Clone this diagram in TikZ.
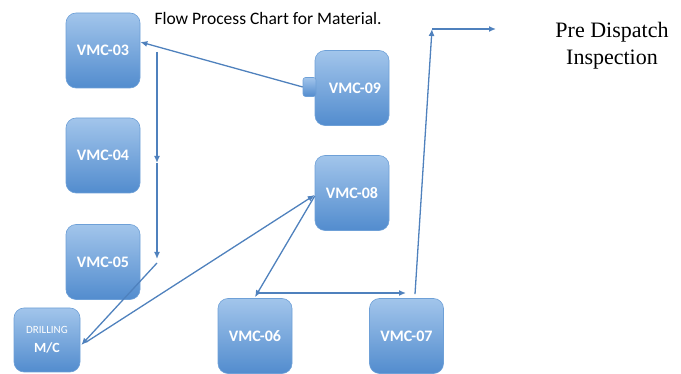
\documentclass[tikz,border=0pt]{standalone}
\usepackage{fontspec}
\setmainfont{Liberation Serif}
\newfontfamily\calfont{Carlito}
\usetikzlibrary{arrows.meta}
\definecolor{boxtop}{RGB}{162,197,235}
\definecolor{boxbot}{RGB}{82,140,206}
\definecolor{boxedge}{RGB}{110,160,215}
\definecolor{arrowc}{RGB}{79,129,189}
\tikzset{
  mbox/.style={rounded corners=10pt, minimum width=74pt, minimum height=75pt,
    top color=boxtop, bottom color=boxbot, draw=boxedge, line width=0.6pt,
    text=white, font=\calfont\bfseries\fontsize{16}{18}\selectfont, inner sep=0pt},
  conn/.style={draw=arrowc, line width=1.3pt, -{Latex[length=7pt,width=6pt]}},
}
\begin{document}
\begin{tikzpicture}[x=1pt,y=-1pt]
\useasboundingbox (0,0) rectangle (681,374);
\node[mbox] (v03) at (103,50.5) {VMC-03};
\node[mbox] (v04) at (103,155.5) {VMC-04};
\node[mbox] (v05) at (103,262) {VMC-05};
\node[mbox, minimum width=66pt, minimum height=64pt, align=center] (drill) at (47,340)
  {\mdseries\fontsize{11}{11}\selectfont DRILLING\\[1pt]\bfseries\fontsize{14}{14}\selectfont M/C};
\node[mbox] (v09) at (352,88) {\hspace*{6pt}VMC-09};
\node[mbox, minimum width=13pt, minimum height=19pt, rounded corners=2.5pt] (tab) at (309.5,87) {};
\node[mbox] (v08) at (352,193) {VMC-08};
\node[mbox] (v06) at (255,336) {VMC-06};
\node[mbox] (v07) at (406.5,336) {VMC-07};
\node[font=\calfont\fontsize{17.5}{20}\selectfont, anchor=west] (title) at (151,18) {Flow Process Chart for Material.};
\node[font=\fontsize{22}{27}\selectfont, align=center] (pdi) at (612,46) {Pre Dispatch\\Inspection};
% connectors
\draw[conn] (tab.west) -- ([yshift=8.5pt]v03.east);
\coordinate (a1) at (157,52);
\coordinate (am) at (157,163);
\coordinate (a2) at (157,259);
\coordinate (a3) at (157,263);
\draw[conn] (a1) -- (am);
\draw[conn] (am) -- (a2);
\draw[conn] (a3) -- ([yshift=-5pt,xshift=1pt]drill.east);
\draw[conn] ([yshift=-2pt,xshift=6pt]drill.east) -- ([yshift=-2pt]v08.west);
\draw[conn] ([yshift=-3pt]v08.west) -- ([yshift=1pt]v06.north);
\coordinate (h1) at (258,293);
\coordinate (h2) at (406,293);
\draw[conn] (h1) -- (h2);
\coordinate (c1) at (432,29);
\coordinate (c2) at (496,29);
\draw[conn] ([xshift=8.5pt,yshift=4pt]v07.north) -- (c1);
\draw[conn] (c1) -- (c2);
\end{tikzpicture}
\end{document}
